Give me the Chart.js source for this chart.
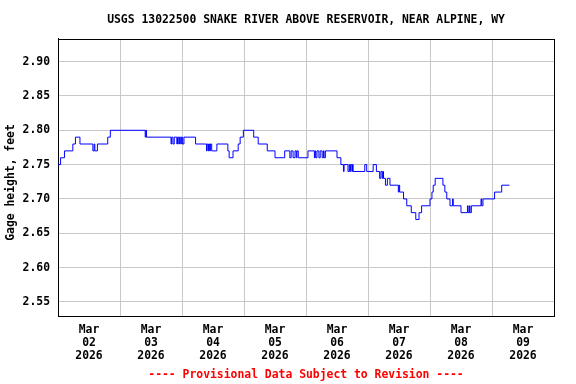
<!DOCTYPE html>
<html>
<head>
<meta charset="utf-8">
<script src="https://cdn.jsdelivr.net/npm/chart.js@4/dist/chart.umd.min.js"></script>
<style>
  html, body { margin: 0; padding: 0; background: #ffffff; }
  canvas { display: block; }
</style>
</head>
<body>
<canvas id="c" width="576" height="384"></canvas>
<script>
// ---- Data (day-of-March HH:MM, gage height in feet) ----
const times = [
  "02 00:00","02 01:00","02 02:30","02 05:45","02 06:45","02 08:30","02 13:30","02 14:00","02 14:15","02 15:15",
  "02 19:15","02 20:15","03 09:45","03 10:00","03 10:15","03 19:45","03 20:00","03 20:30","03 21:00","03 22:00",
  "03 22:15","03 22:45","03 23:00","03 23:30","03 23:45","04 00:15","04 00:45","04 05:15","04 09:30","04 09:45",
  "04 10:15","04 10:30","04 10:45","04 11:00","04 11:30","04 13:30","04 17:45","04 18:15","04 19:45","04 21:45",
  "04 22:30","04 23:45","05 03:45","05 05:30","05 09:00","05 12:00","05 15:45","05 17:45","05 18:15","05 19:00",
  "05 19:45","05 20:15","05 20:30","05 21:00","06 00:45","06 03:15","06 03:30","06 03:45","06 04:15","06 05:00",
  "06 05:30","06 06:15","06 06:45","06 07:00","06 07:30","06 12:00","06 13:30","06 14:30","06 14:45","06 16:15",
  "06 16:45","06 17:00","06 17:15","06 17:45","06 18:00","06 18:15","06 22:45","06 23:30","07 02:00","07 03:15",
  "07 04:30","07 05:00","07 05:30","07 05:45","07 06:00","07 06:45","07 07:30","07 08:30","07 11:45","07 12:00",
  "07 12:15","07 13:45","07 15:00","07 16:45","07 18:30","07 19:45","07 20:45","08 00:00","08 00:45","08 01:15",
  "08 02:00","08 05:00","08 05:45","08 06:30","08 07:45","08 08:45","08 09:00","08 12:00","08 14:30","08 14:45",
  "08 15:15","08 15:30","08 16:00","08 19:45","08 20:00","08 20:30","09 01:00","09 03:45","09 06:45"
];
const values = [
  2.75,2.76,2.77,2.78,2.79,2.78,2.77,2.78,2.77,2.78,
  2.79,2.80,2.79,2.80,2.79,2.78,2.79,2.78,2.79,2.78,
  2.79,2.78,2.79,2.78,2.79,2.78,2.79,2.78,2.77,2.78,
  2.77,2.78,2.77,2.78,2.77,2.78,2.77,2.76,2.77,2.78,
  2.79,2.80,2.79,2.78,2.77,2.76,2.77,2.76,2.77,2.76,
  2.77,2.76,2.77,2.76,2.77,2.76,2.77,2.76,2.77,2.76,
  2.77,2.76,2.77,2.76,2.77,2.76,2.75,2.74,2.75,2.74,
  2.75,2.74,2.75,2.74,2.75,2.74,2.75,2.74,2.75,2.74,
  2.73,2.74,2.73,2.74,2.73,2.72,2.73,2.72,2.71,2.72,
  2.71,2.70,2.69,2.68,2.67,2.68,2.69,2.70,2.71,2.72,
  2.73,2.72,2.71,2.70,2.69,2.70,2.69,2.68,2.69,2.68,
  2.69,2.68,2.69,2.70,2.69,2.70,2.71,2.72,2.72
];
const yTicks = [2.55, 2.60, 2.65, 2.70, 2.75, 2.80, 2.85, 2.90];
const dayLabels = [["Mar","02","2026"],["Mar","03","2026"],["Mar","04","2026"],["Mar","05","2026"],
                   ["Mar","06","2026"],["Mar","07","2026"],["Mar","08","2026"],["Mar","09","2026"]];
const titleText = "USGS 13022500 SNAKE RIVER ABOVE RESERVOIR, NEAR ALPINE, WY";
const footerText = "---- Provisional Data Subject to Revision ----";
const yTitle = "Gage height, feet";

// hours since Mar 02 00:00
function toHours(s) {
  const d = parseInt(s.slice(0, 2), 10);
  const hh = parseInt(s.slice(3, 5), 10);
  const mm = parseInt(s.slice(6, 8), 10);
  return (d - 2) * 24 + hh + mm / 60;
}
const points = times.map((t, i) => ({ x: toHours(t), y: values[i] }));
const labelHours = dayLabels.map((_, i) => i * 24 + 12);
const gridHours = [];
for (let i = 0; i <= dayLabels.length; i++) gridHours.push(i * 24);

const FONT = "'DejaVu Sans Mono', monospace";
const font = { family: FONT, size: 11.4, weight: 'bold', lineHeight: 1.2 };
const GRID = '#c8c8c8';

const framePlugin = {
  id: 'frame',
  beforeDatasetsDraw(chart) {
    const a = chart.chartArea, ctx = chart.ctx;
    ctx.save();
    ctx.strokeStyle = '#000000';
    ctx.lineWidth = 1;
    ctx.strokeRect(Math.round(a.left) + 0.5, Math.round(a.top) + 0.5,
                   Math.round(a.right) - Math.round(a.left) - 1 + 1, Math.round(a.bottom) - Math.round(a.top));
    ctx.restore();
  },
  afterDraw(chart) {
    const ctx = chart.ctx;
    ctx.save();
    ctx.fillStyle = '#000000';
    ctx.font = "bold 11.4px " + FONT;
    ctx.textAlign = 'center';
    ctx.textBaseline = 'middle';
    ctx.translate(11.5, 182.5);
    ctx.rotate(-Math.PI / 2);
    ctx.fillText(yTitle, 0, 0);
    ctx.restore();
  }
};

new Chart(document.getElementById('c'), {
  type: 'line',
  data: {
    datasets: [{
      data: points,
      borderColor: '#0000ff',
      borderWidth: 1,
      pointRadius: 0,
      stepped: true,
      fill: false,
      tension: 0
    }]
  },
  plugins: [framePlugin],
  options: {
    responsive: false,
    animation: false,
    devicePixelRatio: 1,
    layout: { padding: { left: 0, right: 22, top: 0, bottom: 0 } },
    plugins: {
      legend: { display: false },
      tooltip: { enabled: false },
      title: {
        display: true, text: titleText, color: '#000000', font: font,
        fullSize: false, padding: { top: 13, bottom: 12.3 }
      },
      subtitle: {
        display: true, text: footerText, color: '#ff0000', font: font,
        position: 'bottom', fullSize: false, padding: { top: 4, bottom: 2.2 }
      }
    },
    scales: {
      x: {
        type: 'linear',
        min: 0, max: 192,
        afterBuildTicks(scale) {
          const all = gridHours.concat(labelHours).sort((a, b) => a - b);
          scale.ticks = all.map(v => ({ value: v }));
        },
        afterFit(scale) { scale.height = 47.8; },
        ticks: {
          autoSkip: false, maxRotation: 0, minRotation: 0,
          padding: 7, color: '#000000',
          font: { family: FONT, size: 11.4, weight: 'bold', lineHeight: 13.2 / 11.4 },
          callback(value) {
            const i = labelHours.indexOf(value);
            return i >= 0 ? dayLabels[i] : '';
          }
        },
        grid: {
          drawTicks: false,
          color(ctx) { return ctx.tick && gridHours.includes(ctx.tick.value) ? GRID : 'rgba(0,0,0,0)'; },
          lineWidth: 1
        },
        border: { display: true, color: '#000000', width: 1 }
      },
      y: {
        type: 'linear',
        min: 2.529, max: 2.933,
        afterBuildTicks(scale) { scale.ticks = yTicks.map(v => ({ value: v })); },
        afterFit(scale) { scale.width = 58; },
        ticks: {
          padding: 8, color: '#000000', font: font,
          callback(value) { return Number(value).toFixed(2); }
        },
        grid: { drawTicks: false, color: GRID, lineWidth: 1 },
        border: { display: true, color: '#000000', width: 1 }
      }
    }
  }
});
</script>
</body>
</html>
